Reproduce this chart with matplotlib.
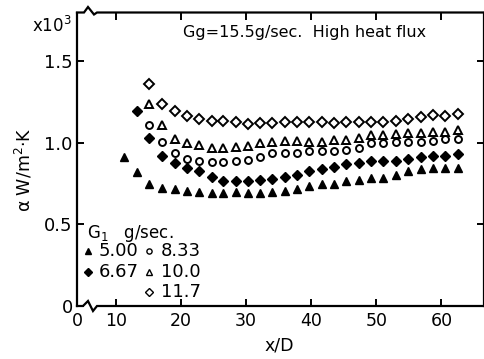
import matplotlib
matplotlib.use("Agg")
import matplotlib.pyplot as plt
from matplotlib.lines import Line2D

plt.rcParams['font.family'] = ['DejaVu Sans']

# Measurement stations along the tube (x/D)
x_pos = [11.3, 13.2, 15.1, 17.1, 19.0, 20.9, 22.8, 24.7, 26.5, 28.4,
         30.3, 32.2, 34.0, 36.0, 37.8, 39.7, 41.6, 43.5, 45.4, 47.4,
         49.2, 51.1, 53.1, 54.9, 56.8, 58.7, 60.6, 62.5]

# Liquid flow rates G1 (g/sec.)
g1_labels = ["5.00", "6.67", "8.33", "10.0", "11.7"]

# Heat transfer coefficient alpha (x10^3 W/m^2 K)
alpha_500 = [0.910, 0.822, 0.745, 0.725, 0.713, 0.704, 0.698, 0.693, 0.693, 0.695,
             0.693, 0.693, 0.698, 0.704, 0.716, 0.734, 0.744, 0.748, 0.765, 0.771,
             0.783, 0.783, 0.802, 0.826, 0.838, 0.843, 0.845, 0.845]
alpha_667 = [1.193, 1.030, 0.920, 0.873, 0.843, 0.826, 0.791, 0.767, 0.763,
             0.763, 0.769, 0.779, 0.789, 0.802, 0.826, 0.837, 0.853, 0.869, 0.873,
             0.887, 0.887, 0.890, 0.897, 0.910, 0.915, 0.920, 0.930]
alpha_833 = [1.108, 1.004, 0.938, 0.898, 0.889, 0.883, 0.883, 0.889, 0.894,
             0.914, 0.938, 0.939, 0.939, 0.949, 0.949, 0.949, 0.955, 0.969, 0.996,
             0.996, 1.004, 1.004, 1.002, 1.008, 1.020, 1.020]
alpha_100 = [1.236, 1.108, 1.020, 0.999, 0.985, 0.965, 0.969, 0.971, 0.979,
             0.996, 1.006, 1.007, 1.007, 1.002, 1.006, 1.016, 1.014, 1.030, 1.045,
             1.047, 1.051, 1.057, 1.061, 1.067, 1.067, 1.077]
alpha_117 = [1.359, 1.238, 1.195, 1.163, 1.146, 1.134, 1.130, 1.124, 1.112,
             1.122, 1.122, 1.129, 1.128, 1.128, 1.126, 1.122, 1.124, 1.126, 1.126,
             1.124, 1.130, 1.144, 1.154, 1.166, 1.164, 1.175]

series = [alpha_500, alpha_667, alpha_833, alpha_100, alpha_117]
styles = [
    dict(marker='^', ms=6.0, mfc='black', mec='black', mew=1.0),
    dict(marker='D', ms=5.0, mfc='black', mec='black', mew=1.0),
    dict(marker='o', ms=5.0, mfc='white', mec='black', mew=1.4),
    dict(marker='^', ms=6.0, mfc='white', mec='black', mew=1.4),
    dict(marker='D', ms=5.0, mfc='white', mec='black', mew=1.4),
]

W, H = 485, 359
fig = plt.figure(figsize=(W / 100, H / 100), dpi=100)
L, R, T, B = 77, 484, 12.5, 306
ax = fig.add_axes([L / W, 1 - B / H, (R - L) / W, (B - T) / H])

x_left, x_right = 4.0, 66.56
ax.set_xlim(x_left, x_right)
ax.set_ylim(0, 1.796)

for vals, st in zip(series, styles):
    xs = x_pos[len(x_pos) - len(vals):]
    ax.plot(xs, vals, linestyle='none', **st, clip_on=False)

# Axes, ticks and the broken-axis marks
ax.spines['top'].set_visible(False)
ax.spines['bottom'].set_visible(False)
for s in ('left', 'right'):
    ax.spines[s].set_linewidth(1.6)

ax.set_xticks([x_left, 10, 20, 30, 40, 50, 60])
ax.set_xticklabels(['0', '10', '20', '30', '40', '50', '60'])
ax.set_yticks([0, 0.5, 1.0, 1.5])
ax.set_yticklabels(['0', '0.5', '1.0', '1.5'])
ax.tick_params(axis='both', direction='in', length=5, width=1.4,
               top=True, right=True)
ax.tick_params(axis='x', labelsize=12.5, pad=4)
ax.tick_params(axis='y', labelsize=13, pad=3)


def px(xp, yp):
    return (xp - L) / (R - L), (B - yp) / (B - T)


top_line = [px(*p) for p in [(77, 12.5), (84, 12.5), (88, 7), (94, 14.5), (97, 12.5), (484, 12.5)]]
bot_line = [px(*p) for p in [(77, 306), (83, 306), (88, 301), (93, 311), (97, 306), (484, 306)]]
for line in (top_line, bot_line):
    ax.add_line(Line2D([p[0] for p in line], [p[1] for p in line],
                       transform=ax.transAxes, color='black', lw=1.6,
                       clip_on=False, solid_joinstyle='miter'))

# Labels
fig.text(279 / W, 1 - 345 / H, 'x/D', ha='center', va='center', fontsize=12.5)
fig.text(24 / W, 1 - 170 / H, r'α W/m$^2$·K', rotation=90,
         ha='center', va='center', fontsize=12.5)
fig.text(72 / W, 1 - 32 / H, r'x10$^3$', ha='right', va='baseline', fontsize=12)
fig.text(183 / W, 1 - 32 / H, 'Gg=15.5g/sec.  High heat flux',
         ha='left', va='center', fontsize=11.5)

# Legend block
fig.text(87 / W, 1 - 233 / H, r'G$_1$   g/sec.', ha='left', va='center', fontsize=12)
slots = [(88, 99, 251), (88, 99, 272), (149, 161, 251), (149, 161, 272), (149, 161, 292)]
for lab, st, (mx, tx, ty) in zip(g1_labels, styles, slots):
    small = dict(st)
    small['ms'] = st['ms'] * 0.75
    small['mew'] = 1.0
    fig.add_artist(Line2D([mx / W], [1 - ty / H], transform=fig.transFigure,
                          linestyle='none', **small))
    fig.text(tx / W, 1 - ty / H, lab, ha='left', va='center', fontsize=13)

fig.savefig('out.png', dpi=100)
